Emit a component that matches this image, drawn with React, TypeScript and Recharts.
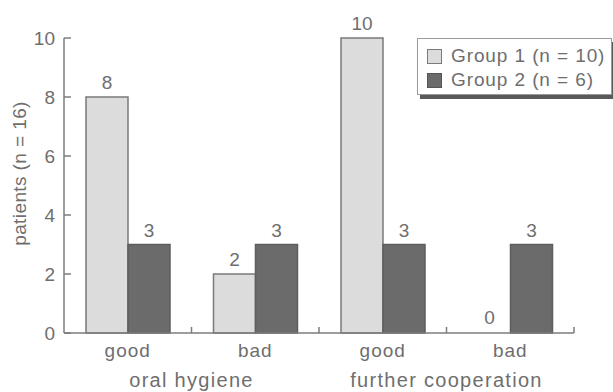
import { Bar, BarChart, XAxis, YAxis, Legend, LabelList, Rectangle } from "recharts";

const categories = ["good", "bad", "good", "bad"];
const groupLabels = ["oral hygiene", "", "further cooperation", ""];
const group1 = [8, 2, 10, 0];
const group2 = [3, 3, 3, 3];
const yTicks = [0, 2, 4, 6, 8, 10];
const seriesNames = ["Group 1 (n = 10)", "Group 2 (n = 6)"];

const data = categories.map((c, i) => ({
  name: c,
  group: groupLabels[i],
  g1: group1[i],
  g2: group2[i],
}));

const FONT = '"Liberation Sans", Arial, Helvetica, sans-serif';
const TEXT = "#6e6e6e";
const AXIS = "#7c7c7c";
const LIGHT = "#dcdcdc";
const DARK = "#6b6b6b";

const XTick = (props: any) => {
  const { x, y, payload, index } = props;
  const edge = x + (payload.offset || 0);
  const group = groupLabels[index];
  return (
    <g>
      <line x1={edge} x2={edge} y1={y - 8} y2={y - 14} stroke={AXIS} strokeWidth={1.5} />
      <text x={x} y={y + 16} textAnchor="middle" fill={TEXT} fontSize={19} fontFamily={FONT} letterSpacing={1}>
        {payload.value}
      </text>
      {group ? (
        <text
          x={edge}
          y={y + 46}
          textAnchor="middle"
          fill={TEXT}
          fontSize={20}
          fontFamily={FONT}
          letterSpacing={1.3}
        >
          {group}
        </text>
      ) : null}
    </g>
  );
};

const YTick = (props: any) => {
  const { x, y, payload } = props;
  return (
    <g>
      <line x1={x + 9} x2={x + 16} y1={y} y2={y} stroke={AXIS} strokeWidth={1.5} />
      <text x={x} y={y + 7} textAnchor="end" fill={TEXT} fontSize={19} fontFamily={FONT}>
        {payload.value}
      </text>
    </g>
  );
};

const YTitle = (props: any) => {
  const vb = props.viewBox || { x: 0, y: 0, width: 0, height: 0 };
  const cx = 26;
  const cy = vb.y + vb.height / 2 - 12;
  return (
    <text
      x={cx}
      y={cy}
      transform={`rotate(-90 ${cx} ${cy})`}
      textAnchor="middle"
      fill={TEXT}
      fontSize={19}
      fontFamily={FONT}
      letterSpacing={0.4}
    >
      patients (n = 16)
    </text>
  );
};

// zero-valued bars keep their label but draw no rectangle
const BarShape = (props: any) => {
  if (!props.value || props.height <= 1.5) return <g />;
  return <Rectangle {...props} />;
};

const LegendBox = () => (
  <div
    style={{
      width: 193,
      height: 55,
      border: "1px solid #9a9a9a",
      boxShadow: "3px 4px 0 #5a5a5a",
      background: "#fff",
      fontFamily: FONT,
      fontSize: 19,
      letterSpacing: 0.9,
      color: TEXT,
      boxSizing: "content-box",
    }}
  >
    {seriesNames.map((n, i) => (
      <div key={n} style={{ display: "flex", alignItems: "center", height: 24, marginTop: i === 0 ? 5 : 0, paddingLeft: 9 }}>
        <span
          style={{
            display: "inline-block",
            width: 13,
            height: 13,
            background: i === 0 ? LIGHT : DARK,
            border: `1px solid ${i === 0 ? "#7a7a7a" : "#555"}`,
            marginRight: 9,
          }}
        />
        <span style={{ whiteSpace: "nowrap" }}>{n}</span>
      </div>
    ))}
  </div>
);

export default function App() {
  return (
    <div style={{ position: "absolute", left: 0, top: 0, background: "#fff" }}>
      <BarChart
        width={613}
        height={392}
        data={data}
        margin={{ top: 38, right: 39, bottom: 0, left: 0 }}
        barCategoryGap={22}
        barGap={0}
      >
        <XAxis
          dataKey="name"
          height={59}
          tickSize={0}
          tickMargin={8}
          tickLine={false}
          axisLine={{ stroke: AXIS, strokeWidth: 1.5 }}
          tick={<XTick />}
          interval={0}
        />
        <YAxis
          width={64}
          domain={[0, 10]}
          ticks={yTicks}
          tickSize={0}
          tickMargin={9}
          tickLine={false}
          axisLine={{ stroke: AXIS, strokeWidth: 1.5 }}
          tick={<YTick />}
          label={<YTitle />}
        />
        <Legend
          layout="vertical"
          align="center"
          verticalAlign="middle"
          wrapperStyle={{ left: 417, top: 38, width: 200 }}
          content={<LegendBox />}
        />
        <Bar
          dataKey="g1"
          name={seriesNames[0]}
          fill={LIGHT}
          stroke="#7a7a7a"
          strokeWidth={1.5}
          minPointSize={1}
          shape={<BarShape />}
          isAnimationActive={false}
        >
          <LabelList dataKey="g1" position="top" offset={8} fill={TEXT} fontSize={19} fontFamily={FONT} />
        </Bar>
        <Bar
          dataKey="g2"
          name={seriesNames[1]}
          fill={DARK}
          stroke="#5e5e5e"
          strokeWidth={1.5}
          isAnimationActive={false}
        >
          <LabelList dataKey="g2" position="top" offset={8} fill={TEXT} fontSize={19} fontFamily={FONT} />
        </Bar>
      </BarChart>
    </div>
  );
}
